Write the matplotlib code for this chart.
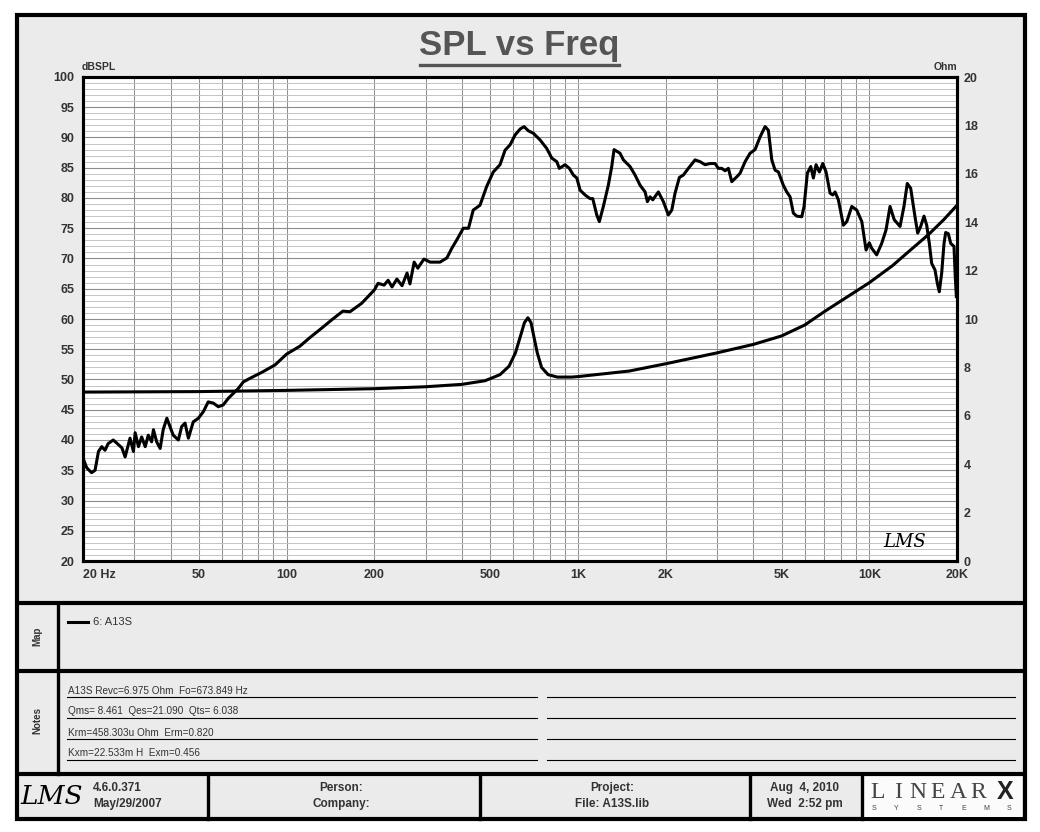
import matplotlib
matplotlib.use('Agg')
import matplotlib.pyplot as plt
from matplotlib.patches import Rectangle

plt.rcParams['font.family'] = ['Liberation Sans', 'DejaVu Sans']

# SPL curve (Hz, dB)
spl_freq = [20.0, 20.6, 21.4, 22.0, 22.6, 23.2, 23.8, 24.4, 25.4, 26.1, 27.2, 27.9, 29.0, 29.8,
            30.2, 31.0, 31.8, 32.7, 33.5, 34.4, 34.9, 35.8, 36.8, 37.7, 38.8, 39.8, 40.8, 42.5,
            43.6, 44.8, 46.0, 47.8, 49.8, 51.8, 53.8, 56.0, 58.3, 60.6, 63.1, 65.6, 68.2, 71.0,
            74.9, 82.3, 91.2, 100, 111, 120, 132, 144, 156, 165, 181, 200, 206, 216, 223, 230,
            239, 249, 259, 265, 274, 282, 296, 311, 336, 355, 369, 384, 404, 421, 437, 461,
            486, 512, 540, 562, 585, 608, 633, 653, 676, 703, 741, 781, 813, 846, 863, 903,
            934, 964, 991, 1017, 1058, 1100, 1124, 1160, 1184, 1222, 1271, 1306, 1330, 1394,
            1432, 1509, 1570, 1634, 1700, 1731, 1768, 1806, 1888, 1964, 2043, 2099, 2154, 2229,
            2301, 2393, 2523, 2625, 2731, 2841, 2955, 3033, 3116, 3198, 3283, 3372, 3509, 3602,
            3747, 3897, 4054, 4218, 4388, 4504, 4627, 4749, 4875, 5070, 5208, 5346, 5487, 5636,
            5864, 5971, 6129, 6296, 6427, 6566, 6739, 6923, 7106, 7334, 7493, 7630, 7831, 8147,
            8370, 8707, 9057, 9424, 9748, 10000, 10190, 10600, 11030, 11410, 11780, 12180,
            12750, 13150, 13500, 13870, 14350, 14660, 15010, 15410, 15740, 16070, 16370, 16810,
            17120, 17390, 17720, 18050, 18290, 18670, 19030, 19530, 19730, 19900]
spl_db = [37.0, 35.4, 34.6, 35.0, 38.1, 38.9, 38.3, 39.4, 40.0, 39.5, 38.7, 37.2, 40.3, 38.1,
          41.2, 38.9, 40.5, 38.9, 40.8, 39.7, 41.7, 39.7, 38.6, 41.7, 43.6, 42.2, 40.8, 40.0,
          42.2, 42.8, 40.3, 43.0, 43.6, 44.7, 46.3, 46.1, 45.5, 45.8, 46.9, 47.7, 48.5, 49.6,
          50.2, 51.2, 52.4, 54.2, 55.5, 56.9, 58.5, 60.0, 61.3, 61.2, 62.6, 64.8, 65.9, 65.6,
          66.4, 65.3, 66.6, 65.5, 67.6, 65.8, 69.4, 68.4, 69.9, 69.4, 69.4, 70.1, 71.7, 73.1,
          75.0, 75.0, 78.0, 78.8, 81.9, 84.3, 85.5, 87.9, 88.8, 90.4, 91.4, 91.8, 91.1, 90.7,
          89.6, 88.2, 86.6, 86.0, 84.9, 85.5, 84.9, 83.8, 83.3, 81.3, 80.5, 79.9, 79.9, 77.2,
          76.1, 78.6, 82.1, 85.2, 88.0, 87.4, 86.3, 85.2, 83.8, 82.1, 81.0, 79.4, 80.2, 79.7,
          81.0, 79.4, 77.2, 78.0, 80.8, 83.4, 83.8, 84.9, 86.3, 86.0, 85.5, 85.7, 85.7, 84.9,
          84.9, 84.5, 84.9, 82.7, 83.5, 84.1, 86.0, 87.4, 88.0, 90.1, 91.8, 91.2, 86.3, 84.6,
          84.3, 82.1, 81.0, 80.2, 77.5, 77.0, 76.9, 78.6, 84.1, 85.2, 83.3, 85.5, 84.3, 85.7,
          84.3, 80.8, 80.5, 81.0, 79.7, 75.5, 76.1, 78.6, 78.0, 76.1, 71.4, 72.6, 71.7, 70.6,
          72.5, 74.7, 78.6, 76.4, 75.3, 78.6, 82.4, 81.6, 76.9, 74.2, 75.3, 77.0, 75.5, 72.5,
          69.2, 68.1, 65.9, 64.5, 67.6, 72.5, 74.3, 74.1, 72.5, 72.0, 67.0, 63.7]

# impedance curve (Hz, Ohm)
imp_freq = [20, 50, 100, 200, 300, 400, 480, 540, 580, 610, 635, 655, 673, 690, 705, 725,
            750, 790, 850, 950, 1000, 1500, 2000, 3000, 4000, 5000, 6000, 7000, 8000, 10000,
            12000, 14000, 16000, 18000, 20000]
imp_ohm = [6.98, 7.0, 7.05, 7.12, 7.2, 7.3, 7.45, 7.7, 8.05, 8.6, 9.3, 9.85, 10.05, 9.85, 9.3,
           8.6, 8.0, 7.7, 7.6, 7.6, 7.62, 7.85, 8.15, 8.6, 8.95, 9.3, 9.75, 10.3, 10.75, 11.5,
           12.2, 12.9, 13.5, 14.1, 14.7]

x_ticks = [20, 50, 100, 200, 500, 1000, 2000, 5000, 10000, 20000]
x_labels = ['20 Hz', '50', '100', '200', '500', '1K', '2K', '5K', '10K', '20K']
db_ticks = list(range(20, 101, 5))
ohm_ticks = list(range(0, 21, 2))

notes = ['A13S Revc=6.975 Ohm  Fo=673.849 Hz',
         'Qms= 8.461  Qes=21.090  Qts= 6.038',
         'Krm=458.303u Ohm  Erm=0.820',
         'Kxm=22.533m H  Exm=0.456']

W, H = 1040, 832
PANEL = '#ebebeb'
TXT = '#333333'


def box(x0, y0, x1, y1):
    # pixel box -> figure fraction
    return [x0 / W, 1 - y1 / H, (x1 - x0) / W, (y1 - y0) / H]


fig = plt.figure(figsize=(W / 100, H / 100), dpi=100)
fig.patch.set_facecolor('white')

# background layer for the panels, in pixel coordinates
bg = fig.add_axes([0, 0, 1, 1])
bg.set_xlim(0, W)
bg.set_ylim(H, 0)
bg.axis('off')

bg.add_patch(Rectangle((17, 15), 1008, 804, facecolor=PANEL, edgecolor='black', lw=3.0))
bg.add_patch(Rectangle((862, 775), 160, 42, facecolor='#fbfbfb', edgecolor='none'))
for yy in [603, 671, 774]:
    bg.plot([17, 1025], [yy, yy], color='black', lw=3.0, solid_capstyle='butt')
bg.plot([58, 58], [603, 774], color='black', lw=2.4)
for xx in [208, 480, 750, 862]:
    bg.plot([xx, xx], [774, 819], color='black', lw=2.4)

# title
bg.text(519, 46, 'SPL vs Freq', ha='center', va='center', fontsize=25, fontweight='bold', color='#555555')
bg.plot([420, 619], [65, 65], color='#555555', lw=2.4)
bg.text(82, 67, 'dBSPL', ha='left', va='center', fontsize=7.5, fontweight='bold', color=TXT)
bg.text(957, 67, 'Ohm', ha='right', va='center', fontsize=7.5, fontweight='bold', color=TXT)

# map panel
bg.text(37, 636, 'Map', rotation=90, ha='center', va='center', fontsize=7, fontweight='bold', color=TXT)
bg.plot([68, 88], [622, 622], color='black', lw=2.2)
bg.text(93, 622, '6: A13S', ha='left', va='center', fontsize=8, color=TXT)

# notes panel
bg.text(37, 721, 'Notes', rotation=90, ha='center', va='center', fontsize=7, fontweight='bold', color=TXT)
for i, line in enumerate(notes):
    yy = 697 + i * 21
    bg.plot([67, 537], [yy, yy], color='black', lw=0.8)
    bg.plot([547, 1015], [yy, yy], color='black', lw=0.8)
    bg.text(68, yy - 1.5, line, ha='left', va='bottom', fontsize=7.2, color=TXT)

# footer
bg.text(52, 797, 'LMS', ha='center', va='center', fontsize=19, fontstyle='italic',
        family='DejaVu Serif', color='black')
bg.text(93, 788, '4.6.0.371', ha='left', va='center', fontsize=8.5, fontweight='bold', color=TXT)
bg.text(93, 804, 'May/29/2007', ha='left', va='center', fontsize=8.5, fontweight='bold', color=TXT)
bg.text(341, 788, 'Person:', ha='center', va='center', fontsize=8.5, fontweight='bold', color=TXT)
bg.text(341, 804, 'Company:', ha='center', va='center', fontsize=8.5, fontweight='bold', color=TXT)
bg.text(612, 788, 'Project:', ha='center', va='center', fontsize=8.5, fontweight='bold', color=TXT)
bg.text(612, 804, 'File: A13S.lib', ha='center', va='center', fontsize=8.5, fontweight='bold', color=TXT)
bg.text(805, 788, 'Aug  4, 2010', ha='center', va='center', fontsize=8.5, fontweight='bold', color=TXT)
bg.text(805, 804, 'Wed  2:52 pm', ha='center', va='center', fontsize=8.5, fontweight='bold', color=TXT)
for i, ch in enumerate('LINEAR'):
    bg.text(878 + i * 20, 792, ch, ha='center', va='center', fontsize=17,
            family='Liberation Serif', color='#444444')
bg.text(1005, 792, 'X', ha='center', va='center', fontsize=18, fontweight='bold', color='#222222')
for i, ch in enumerate('SYSTEMS'):
    bg.text(874 + i * 22.5, 808, ch, ha='center', va='center', fontsize=5, color='#444444')

# main chart
ax = fig.add_axes(box(83, 77, 957, 561))
ax.set_facecolor('white')
ax.set_xscale('log')
ax.set_xlim(20, 20000)
ax.set_ylim(20, 100)

# grid
grid_f = list(range(20, 100, 10)) + list(range(100, 1000, 100)) + list(range(1000, 10000, 1000)) + [10000, 20000]
for f in grid_f:
    ax.axvline(f, color='#909090', lw=0.75, zorder=1)
for d in range(21, 100):
    if d % 5 == 0:
        ax.axhline(d, color='#8c8c8c', lw=0.8, zorder=1)
    else:
        ax.axhline(d, color='#c4c4c4', lw=0.7, zorder=1)

ax.plot(spl_freq, spl_db, color='black', lw=2.2, zorder=3)

ax.set_xticks(x_ticks)
ax.set_xticklabels(x_labels)
ax.minorticks_off()
ax.set_yticks(db_ticks)
ax.tick_params(length=0, labelsize=9, pad=6, labelcolor=TXT)
for lab in ax.get_xticklabels() + ax.get_yticklabels():
    lab.set_fontweight('bold')
ax.get_xticklabels()[0].set_horizontalalignment('left')
for sp in ax.spines.values():
    sp.set_linewidth(2.2)

ax2 = ax.twinx()
ax2.set_ylim(0, 20)
ax2.plot(imp_freq, imp_ohm, color='black', lw=2.2, zorder=3)
ax2.set_yticks(ohm_ticks)
ax2.tick_params(length=0, labelsize=9, pad=5, labelcolor=TXT)
for lab in ax2.get_yticklabels():
    lab.set_fontweight('bold')
for sp in ax2.spines.values():
    sp.set_linewidth(2.2)

# little LMS mark inside the plot
ax.text(0.965, 0.04, 'LMS', transform=ax.transAxes, ha='right', va='center',
        fontsize=13, fontstyle='italic', family='DejaVu Serif', color='black', zorder=4)

fig.savefig('out.png', dpi=100)
